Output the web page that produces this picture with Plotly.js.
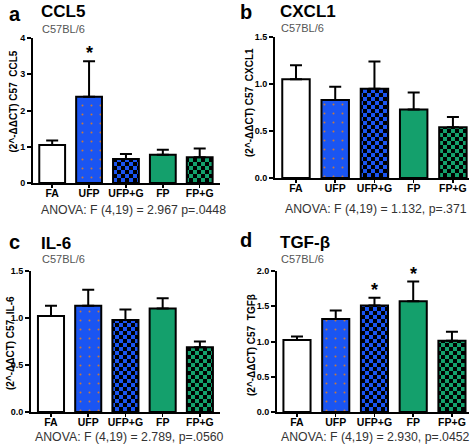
<!DOCTYPE html>
<html>
<head>
<meta charset="utf-8">
<script src="https://cdn.plot.ly/plotly-3.0.1.min.js"></script>
<style>html,body{margin:0;padding:0;background:#fff;}#chart{width:472px;height:446px;}</style>
</head>
<body>
<div id="chart"></div>
<script>
// ---- data ----
var categories = ["FA", "UFP", "UFP+G", "FP", "FP+G"];
var ccl5 = [1.05, 2.38, 0.66, 0.78, 0.71];
var ccl5Err = [0.12, 0.98, 0.14, 0.14, 0.24];
var cxcl1 = [1.05, 0.83, 0.95, 0.73, 0.54];
var cxcl1Err = [0.15, 0.14, 0.29, 0.18, 0.11];
var il6 = [1.02, 1.13, 0.98, 1.10, 0.69];
var il6Err = [0.11, 0.17, 0.11, 0.11, 0.06];
var tgfb = [1.02, 1.32, 1.51, 1.57, 1.01];
var tgfbErr = [0.05, 0.12, 0.11, 0.28, 0.13];
var ccl5Sig = [false, true, false, false, false];
var cxcl1Sig = [false, false, false, false, false];
var il6Sig = [false, false, false, false, false];
var tgfbSig = [false, false, true, true, false];
var panelLetters = ["a", "b", "c", "d"];
var panelTitles = ["CCL5", "CXCL1", "IL-6", "TGF-\u03b2"];
var strainLabel = "C57BL/6";
var yTitles = ["(2^-\u0394\u0394CT) C57  CCL5", "(2^-\u0394\u0394CT) C57  CXCL1", "(2^-\u0394\u0394CT) C57  IL-6", "(2^-\u0394\u0394CT) C57  TGF\u03b2"];
var anovaTexts = ["ANOVA: F (4,19) = 2.967 p=.0448", "ANOVA: F (4,19) = 1.132, p=.371", "ANOVA: F (4,19) = 2.789, p=.0560", "ANOVA: F (4,19) = 2.930, p=.0452"];

// ---- styles ----
var BLUE = "#1a55f2", GREEN = "#14a06c";
var barBg = ["#ffffff", BLUE, BLUE, GREEN, GREEN];
var patShapes = [".", ".", "+", ".", "+"];
var patFg = ["#ffffff", "#c8783c", "#000000", GREEN, "#000000"];
var patSize = [10, 9, 8, 10, 8];
var patSolid = [0.1, 0.04, 0.3, 0.1, 0.3];
var FONT = "Liberation Sans, Arial, sans-serif";
var W = 472, H = 446;
function px(x) { return x / W; }
function py(y) { return 1 - y / H; }

var panels = [
  {vals: ccl5, err: ccl5Err, sig: ccl5Sig, x: [33, 220], y: [38, 183], xr: [-0.52, 4.55], yr: [0, 4], dt: 1, fmt: "d",
   letter: [7, 14], title: [39, 12], strain: [40, 29], anova: [39, 210], ytitle: [12.5, 102]},
  {vals: cxcl1, err: cxcl1Err, sig: cxcl1Sig, x: [275, 469], y: [37, 178], xr: [-0.535, 4.41], yr: [0, 1.5], dt: 0.5, fmt: ".1f",
   letter: [238, 12], title: [278, 12], strain: [279, 28], anova: [283, 209], ytitle: [249, 103]},
  {vals: il6, err: il6Err, sig: il6Sig, x: [31, 220], y: [271, 412], xr: [-0.537, 4.54], yr: [0, 1.5], dt: 0.5, fmt: ".1f",
   letter: [7, 242], title: [39, 243], strain: [40, 259], anova: [33, 437], ytitle: [10, 343]},
  {vals: tgfb, err: tgfbErr, sig: tgfbSig, x: [277, 469], y: [271, 412], xr: [-0.516, 4.44], yr: [0, 2], dt: 0.5, fmt: ".1f",
   letter: [238, 240], title: [278, 242], strain: [279, 259], anova: [279, 437], ytitle: [251, 345]}
];

var data = [], annotations = [];
var layout = {
  width: W, height: H, margin: {l: 0, r: 0, t: 0, b: 0},
  paper_bgcolor: "#fff", plot_bgcolor: "#fff", showlegend: false,
  font: {family: FONT, color: "#000"}
};

panels.forEach(function (p, i) {
  var n = i === 0 ? "" : String(i + 1);
  var xa = "x" + n, ya = "y" + n;
  data.push({
    type: "bar", x: categories, y: p.vals, xaxis: xa, yaxis: ya, width: 0.7,
    marker: {
      color: "#000000",
      line: {color: "#000", width: 2},
      pattern: {shape: patShapes, fgcolor: patFg, bgcolor: barBg, size: patSize, solidity: patSolid, fillmode: "replace"}
    },
    error_y: {type: "data", symmetric: false, array: p.err, arrayminus: p.err.map(function () { return 0; }),
      color: "#000", thickness: 2, width: 6},
    hoverinfo: "none"
  });
  layout["xaxis" + n] = {
    domain: [px(p.x[0]), px(p.x[1])], anchor: ya, range: p.xr, type: "category",
    showline: true, linewidth: 2, linecolor: "#000", ticks: "outside", ticklen: 3, tickwidth: 1.5, tickcolor: "#000",
    ticklabelstandoff: -4,
    tickfont: {family: FONT, size: 10.5, weight: "bold", color: "#000"}, showgrid: false, zeroline: false, fixedrange: true
  };
  layout["yaxis" + n] = {
    domain: [py(p.y[1]), py(p.y[0])], anchor: xa, range: p.yr, dtick: p.dt, tick0: 0, tickformat: p.fmt,
    showline: true, linewidth: 2, linecolor: "#000", ticks: "outside", ticklen: 4, tickwidth: 2, tickcolor: "#000",
    tickfont: {family: FONT, size: 9, weight: "bold", color: "#000"}, showgrid: false, zeroline: false, fixedrange: true
  };
  annotations.push({xref: "paper", yref: "paper", x: px(p.letter[0]), y: py(p.letter[1]), xanchor: "left", yanchor: "middle",
    text: panelLetters[i], showarrow: false, font: {family: FONT, size: 20, weight: "bold", color: "#000"}});
  annotations.push({xref: "paper", yref: "paper", x: px(p.title[0]), y: py(p.title[1]), xanchor: "left", yanchor: "middle",
    text: panelTitles[i], showarrow: false, font: {family: FONT, size: 17, weight: "bold", color: "#000"}});
  annotations.push({xref: "paper", yref: "paper", x: px(p.strain[0]), y: py(p.strain[1]), xanchor: "left", yanchor: "middle",
    text: strainLabel, showarrow: false, font: {family: FONT, size: 11, color: "#555"}});
  annotations.push({xref: "paper", yref: "paper", x: px(p.anova[0]), y: py(p.anova[1]), xanchor: "left", yanchor: "middle",
    text: anovaTexts[i], showarrow: false, font: {family: FONT, size: 12.3, color: "#333"}});
  annotations.push({xref: "paper", yref: "paper", x: px(p.ytitle[0]), y: py(p.ytitle[1]), xanchor: "center", yanchor: "middle",
    text: yTitles[i], textangle: -90, showarrow: false, font: {family: FONT, size: 10, weight: "bold", color: "#000"}});
  p.sig.forEach(function (s, k) {
    if (!s) return;
    annotations.push({xref: xa, yref: ya, x: categories[k], y: p.vals[k] + p.err[k], xanchor: "center", yanchor: "bottom",
      yshift: -4, text: "*", showarrow: false, font: {family: FONT, size: 18, weight: "bold", color: "#000"}});
  });
});
layout.annotations = annotations;

var gd = document.getElementById("chart");
Plotly.newPlot(gd, data, layout, {staticPlot: true, displayModeBar: false}).then(function () {
  // turn the "+" patterns (size 8) into a checkerboard fill
  gd.querySelectorAll("pattern").forEach(function (pat) {
    if (Math.abs(parseFloat(pat.getAttribute("width")) - 8) > 0.01) return;
    var path = pat.querySelector("path");
    if (!path) return;
    path.setAttribute("d", "M0,0h4v4h-4zM4,4h4v4h-4z");
    path.style.fill = "#000";
    path.style.fillOpacity = "1";
    path.style.stroke = "none";
    path.style.strokeWidth = "0";
  });
});
</script>
</body>
</html>
